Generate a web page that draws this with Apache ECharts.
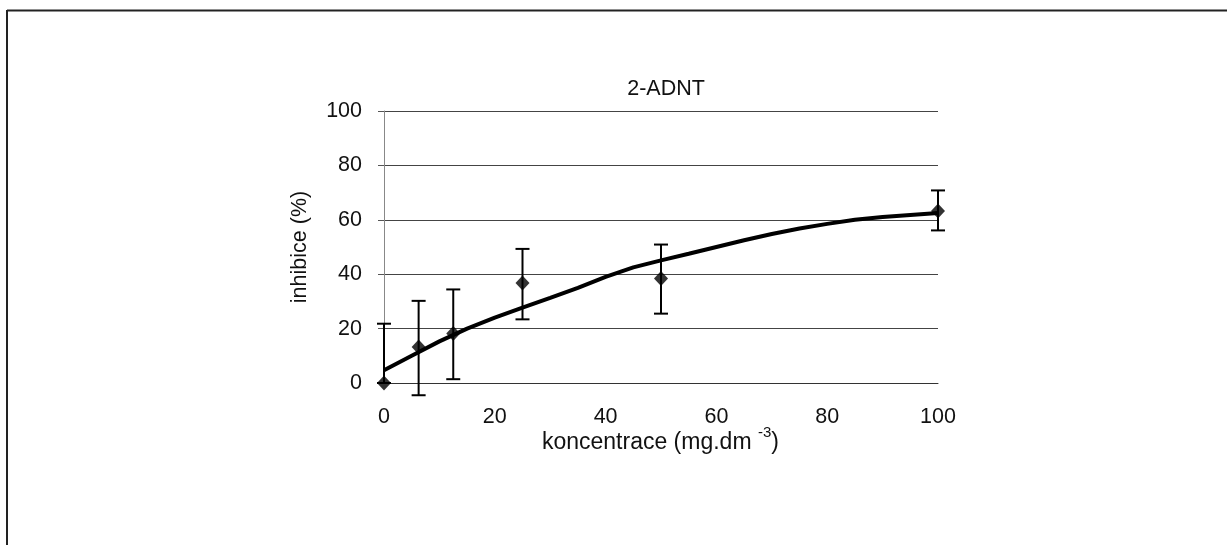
<!DOCTYPE html>
<html>
<head>
<meta charset="utf-8">
<script src="https://cdn.jsdelivr.net/npm/echarts@6/dist/echarts.min.js"></script>
<style>html,body{margin:0;padding:0;background:#fff}#c{width:1227px;height:545px}</style>
</head>
<body>
<div id="c"></div>
<script>
// measured points
var concentrations = [0, 6.25, 12.5, 25, 50, 100];
var inhibition = [0, 13.2, 18.2, 36.8, 38.4, 63.2];
var errHigh = [21.8, 30.2, 34.4, 49.3, 50.9, 70.8];
var errLow = [0, -4.5, 1.4, 23.4, 25.5, 56.1];
// fitted curve
var curveX = [0,5,10,15,20,25,30,35,40,45,50,55,60,65,70,75,80,85,90,95,100];
var curveY = [4.7,10,15.3,20,24,27.7,31.3,35,39,42.5,45.1,47.5,50,52.5,54.8,56.8,58.5,60,61,61.8,62.5];
var xTicks = [0,20,40,60,80,100];
var yTicks = [0,20,40,60,80,100];

var chart = echarts.init(document.getElementById('c'), null, {renderer:'canvas'});
var font = 'Liberation Sans, Arial, sans-serif';
var fs = 21.5;
var points = concentrations.map(function(x,i){return [x, inhibition[i]];});
var errData = concentrations.map(function(x,i){return [x, errLow[i], errHigh[i]];});
var curve = curveX.map(function(x,i){return [x, curveY[i]];});

chart.setOption({
  backgroundColor:'#fff',
  animation:false,
  title:{text:'2-ADNT', left:661, top:73, textAlign:'center',
    textStyle:{fontFamily:font, fontSize:fs, fontWeight:'normal', color:'#111', lineHeight:22}},
  grid:{left:384, right:289, top:111, bottom:162},
  graphic:[
    {type:'line', shape:{x1:7,y1:10.5,x2:1227,y2:10.5}, style:{stroke:'#222', lineWidth:2}},
    {type:'line', shape:{x1:7,y1:10,x2:7,y2:545}, style:{stroke:'#222', lineWidth:2}}
  ],
  xAxis:{type:'value', min:0, max:100, interval:20,
    axisLine:{show:true, lineStyle:{color:'#333', width:1}},
    axisTick:{show:false}, splitLine:{show:false},
    axisLabel:{fontFamily:font, fontSize:fs, color:'#111', margin:23, lineHeight:22},
    name:'{m|koncentrace (mg.dm }{sup|-3}{m|)}{gap| }', nameLocation:'middle', nameGap:42,
    nameMoveOverlap:false,
    nameTextStyle:{fontFamily:font, fontSize:23, color:'#111', lineHeight:24,
      rich:{
        m:{fontFamily:font, fontSize:23, color:'#111', lineHeight:24, verticalAlign:'bottom'},
        sup:{fontFamily:font, fontSize:15, color:'#111', lineHeight:15, verticalAlign:'top'},
        gap:{fontFamily:font, fontSize:4, lineHeight:29, color:'#fff'}
      }}
  },
  yAxis:{type:'value', min:0, max:100, interval:20,
    axisLine:{show:true, lineStyle:{color:'#888', width:1}},
    axisTick:{show:true, length:6, lineStyle:{color:'#555'}},
    splitLine:{show:true, lineStyle:{color:'#444', width:1}},
    axisLabel:{fontFamily:font, fontSize:fs, color:'#111', margin:22},
    name:'inhibice (%)', nameLocation:'middle', nameGap:73,
    nameTextStyle:{fontFamily:font, fontSize:fs, color:'#111', lineHeight:22}
  },
  series:[
    {type:'line', data:curve, showSymbol:false, smooth:false,
      lineStyle:{color:'#000', width:4}, z:3},
    {type:'custom', data:errData, z:4,
      renderItem:function(params, api){
        var x = api.value(0);
        var lo = api.coord([x, api.value(1)]);
        var hi = api.coord([x, api.value(2)]);
        var w = 7;
        var st = {stroke:'#000', lineWidth:2};
        return {type:'group', children:[
          {type:'line', shape:{x1:lo[0],y1:lo[1],x2:hi[0],y2:hi[1]}, style:st},
          {type:'line', shape:{x1:hi[0]-w,y1:hi[1],x2:hi[0]+w,y2:hi[1]}, style:st},
          {type:'line', shape:{x1:lo[0]-w,y1:lo[1],x2:lo[0]+w,y2:lo[1]}, style:st}
        ]};
      }},
    {type:'scatter', data:points, symbol:'diamond', symbolSize:[14,15],
      itemStyle:{color:'#000'}, z:5}
  ]
});
</script>
</body>
</html>
